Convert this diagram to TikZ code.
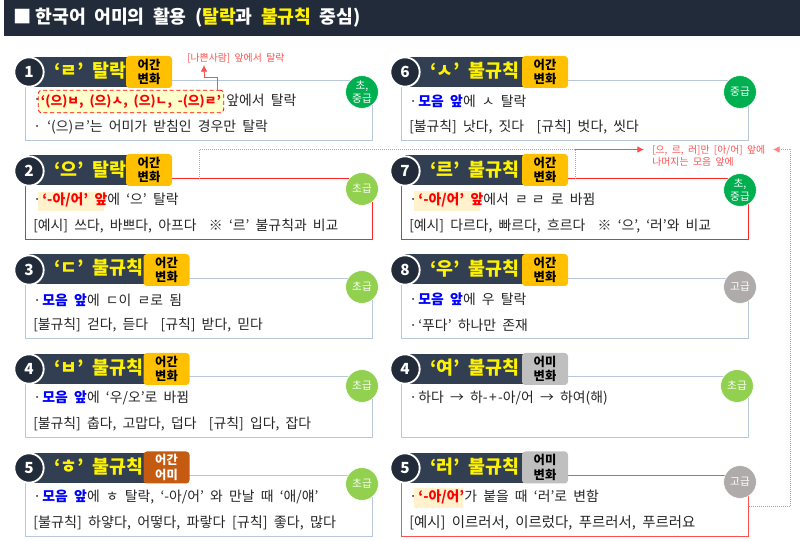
\documentclass[tikz,border=0pt]{standalone}
\usepackage{fontspec}
\setmainfont{Noto Sans CJK KR}[WordSpace=2]
\newcommand{\dotlead}{·\kern1pt}
\definecolor{barnavy}{HTML}{222B3A}
\definecolor{headnavy}{HTML}{323E51}
\definecolor{framegray}{HTML}{B9C7DB}
\definecolor{tagorange}{HTML}{FFC000}
\definecolor{tagbrown}{HTML}{C55A11}
\definecolor{taggray}{HTML}{BFBFBF}
\definecolor{levelgreen}{HTML}{00B050}
\definecolor{levellime}{HTML}{92D050}
\definecolor{levelgray}{HTML}{AFABAB}
\definecolor{softmark}{HTML}{FFF2CC}
\definecolor{rulefill}{HTML}{FFFFCC}
\definecolor{notered}{HTML}{FF5050}
\definecolor{bodyink}{HTML}{262626}
\tikzset{
  card/.style={draw=framegray, line width=0.85pt, minimum width=259.9pt, minimum height=45.4pt, inner sep=0pt},
  redcard/.style={card, draw=red!85!white},
  numdot/.style={circle, fill=barnavy, draw=white, line width=1.4pt, minimum size=22pt, inner sep=0pt, text=white, font=\fontsize{11.5}{12}\selectfont\bfseries},
  head/.style={anchor=west, inner sep=0pt, text=yellow, font=\fontsize{13.8}{15}\selectfont\bfseries},
  tagbox/.style={rounded corners=2.5pt, minimum width=34.5pt, minimum height=24pt, inner sep=0pt, align=center, fill=tagorange, font=\fontsize{9.2}{11}\selectfont\bfseries},
  level/.style={circle, draw=white, line width=0.4pt, minimum size=24.5pt, inner sep=0pt, align=center, text=white, font=\fontsize{8}{10}\selectfont},
  body/.style={anchor=west, inner sep=0pt, text=bodyink, font=\fontsize{10.4}{11}\selectfont},
  note/.style={anchor=west, inner sep=0pt, align=left, text=notered, font=\fontsize{7.4}{9}\selectfont},
  noteline/.style={draw=notered, line width=0.6pt, -{Latex[length=5pt,width=5pt]}},
  notedot/.style={draw=notered!70!white, line width=0.5pt, densely dotted}
}
\usetikzlibrary{arrows.meta}
\begin{document}
\begin{tikzpicture}[x=0.75pt,y=-0.75pt]
\useasboundingbox (0,0) rectangle (800,541);
\fill[barnavy] (4,0) rectangle (800,36);
\node (title) [anchor=west, inner sep=0pt, text=white, font=\fontsize{13.7}{16}\selectfont\bfseries] at (13,18) {■\kern3pt 한국어 어미의 활용 (\textcolor{yellow}{탈락}과 \textcolor{yellow}{불규칙} 중심)};

\node (card1) [card] at (199,110.5) {};
\fill[headnavy] (29,57) rectangle (130,87);
\node (num1) [numdot] at (29,72) {1};
\node (head1) [head] at (54,71) {‘ㄹ’ 탈락};
\node (tag1) [tagbox] at (149,72) {어간\\변화};
\node (level1) [level, fill=levelgreen] at (362,92) {초,\\중급};
\node (dot1) [body] at (33,101) {·};
\node (rule1) [draw=red, densely dashed, rounded corners=2.5pt, fill=rulefill, line width=0.6pt, minimum width=139pt, minimum height=17pt, inner sep=0pt, text=red, font=\fontsize{9.6}{11}\selectfont\bfseries] at (131,101.5) {‘(으)ㅂ, (으)ㅅ, (으)ㄴ, -(으)ㄹ’};
\node (text1a) [body] at (226,100) {앞에서 탈락};
\node (text1b) [body] at (33,127) {· ‘(으)ㄹ’는 어미가 받침인 경우만 탈락};
\node (note1) [note] at (187,58) {[나쁜사람] 앞에서 탈락};
\coordinate (from1) at (217,90);
\coordinate (tip1) at (204,65);
\draw[noteline] (from1) |- (204,77) -- (tip1);

\node (card2) [redcard] at (199,209.2) {};
\fill[headnavy] (29,155) rectangle (130,185);
\node (num2) [numdot] at (29,171) {2};
\node (head2) [head] at (54,170) {‘으’ 탈락};
\node (tag2) [tagbox] at (149,170) {어간\\변화};
\node (level2) [level, fill=levellime] at (362,189) {초급};
\fill[softmark] (38,192) rectangle (103.5,211);
\node (text2a) [body] at (33,200) {\dotlead\textcolor{red}{\textbf{‘-아/어’ 앞}}에 ‘으’ 탈락};
\node (text2b) [body] at (33,226) {[예시] 쓰다, 바쁘다, 아프다 \ ※ ‘르’ 불규칙과 비교};

\node (card3) [card] at (199,308.5) {};
\fill[headnavy] (29,254) rectangle (148,284);
\node (num3) [numdot] at (29,270) {3};
\node (head3) [head] at (54,268) {‘ㄷ’ 불규칙};
\node (tag3) [tagbox] at (166.5,270) {어간\\변화};
\node (level3) [level, fill=levellime] at (362,287) {초급};
\node (text3a) [body] at (33,300) {\dotlead\textcolor{blue}{\textbf{모음 앞}}에 ㄷ이 ㄹ로 됨};
\node (text3b) [body] at (33,325) {[불규칙] 걷다, 듣다 \ [규칙] 받다, 믿다};

\node (card4) [card] at (199,407.2) {};
\fill[headnavy] (29,354) rectangle (148,384);
\node (num4) [numdot] at (29,369) {4};
\node (head4) [head] at (54,368) {‘ㅂ’ 불규칙};
\node (tag4) [tagbox] at (166.5,369) {어간\\변화};
\node (level4) [level, fill=levellime] at (362,386) {초급};
\node (text4a) [body] at (33,398) {\dotlead\textcolor{blue}{\textbf{모음 앞}}에 ‘우/오’로 바뀜};
\node (text4b) [body] at (33,424) {[불규칙] 춥다, 고맙다, 덥다 \ [규칙] 입다, 잡다};

\node (card5) [card] at (199,506.2) {};
\fill[headnavy] (29,453) rectangle (148,483);
\node (num5) [numdot] at (29,468) {5};
\node (head5) [head] at (54,467) {‘ㅎ’ 불규칙};
\node (tag5) [tagbox, fill=tagbrown, text=white] at (166.5,467.5) {어간\\어미};
\node (level5) [level, fill=levellime] at (362,484) {초급};
\node (text5a) [body] at (33,497) {\dotlead\textcolor{blue}{\textbf{모음 앞}}에 ㅎ 탈락, ‘-아/어’ 와 만날 때 ‘애/얘’};
\node (text5b) [body, font=\fontsize{10.6}{11}\selectfont] at (33,523) {[불규칙] 하얗다, 어떻다, 파랗다 [규칙] 좋다, 많다};

\node (card6) [card] at (575,110.5) {};
\fill[headnavy] (405,57) rectangle (526,87);
\node (num6) [numdot] at (405,72) {6};
\node (head6) [head] at (430,71) {‘ㅅ’ 불규칙};
\node (tag6) [tagbox] at (545,72) {어간\\변화};
\node (level6) [level, fill=levelgreen] at (740,92) {중급};
\node (text6a) [body] at (409,101) {\dotlead\textcolor{blue}{\textbf{모음 앞}}에 ㅅ 탈락};
\node (text6b) [body] at (409,127) {[불규칙] 낫다, 짓다 \ [규칙] 벗다, 씻다};

\node (card7) [redcard] at (575,209.2) {};
\fill[headnavy] (405,155) rectangle (526,185);
\node (num7) [numdot] at (405,171) {7};
\node (head7) [head] at (430,170) {‘르’ 불규칙};
\node (tag7) [tagbox] at (545,170) {어간\\변화};
\node (level7) [level, fill=levelgreen] at (740,190) {초,\\중급};
\fill[softmark] (414,191) rectangle (479.5,211);
\node (text7a) [body] at (409,200) {\dotlead\textcolor{red}{\textbf{‘-아/어’ 앞}}에서 ㄹ\kern3pt ㄹ 로 바뀜};
\node (text7b) [body] at (409,226) {[예시] 다르다, 빠르다, 흐르다 \ ※ ‘으’, ‘러’와 비교};

\node (card8) [card] at (575,308.5) {};
\fill[headnavy] (405,254) rectangle (526,284);
\node (num8) [numdot] at (405,270) {8};
\node (head8) [head] at (430,269) {‘우’ 불규칙};
\node (tag8) [tagbox] at (545,270) {어간\\변화};
\node (level8) [level, fill=levelgray] at (740,287) {고급};
\node (text8a) [body] at (409,299) {\dotlead\textcolor{blue}{\textbf{모음 앞}}에 우 탈락};
\node (text8b) [body] at (409,325) {\dotlead ‘푸다’ 하나만 존재};

\node (card9) [card] at (575,407.2) {};
\fill[headnavy] (405,354) rectangle (526,384);
\node (num9) [numdot] at (405,369) {4};
\node (head9) [head] at (430,368) {‘여’ 불규칙};
\node (tag9) [tagbox, fill=taggray] at (545,369) {어미\\변화};
\node (level9) [level, fill=levellime] at (737,386) {초급};
\node (text9a) [body] at (409,398) {\dotlead 하다 → 하-\kern1pt+\kern1pt-아/어 → 하여(해)};

\node (card10) [redcard, draw=notered] at (575,506.2) {};
\fill[headnavy] (405,453) rectangle (526,483);
\node (num10) [numdot] at (405,468) {5};
\node (head10) [head] at (430,467) {‘러’ 불규칙};
\node (tag10) [tagbox, fill=taggray] at (545,467.5) {어미\\변화};
\node (level10) [level, fill=levelgray] at (740,482) {고급};
\fill[softmark] (414,488) rectangle (463,508);
\node (text10a) [body] at (409,497) {\dotlead\textcolor{red}{\textbf{‘-아/어’}}가 붙을 때 ‘러’로 변함};
\node (text10b) [body, font=\fontsize{10.8}{11}\selectfont] at (409,523) {[예시] 이르러서, 이르렀다, 푸르러서, 푸르러요};

\node (note2) [note] at (652,156) {[으, 르, 러]만 [아/어] 앞에\\나머지는 모음 앞에};
\coordinate (split) at (575,149.5);
\coordinate (tip2) at (644,149.5);
\coordinate (tip3) at (773,149.5);
\draw[notedot] (card2.north) |- (split);
\draw[notedot] (card7.north) -- (split);
\draw[noteline] (split) -- (tip2);
\draw[notedot, -{Latex[length=5pt,width=5pt]}] (card10.east) -| (790.7,149.5) -- (tip3);
\end{tikzpicture}
\end{document}
